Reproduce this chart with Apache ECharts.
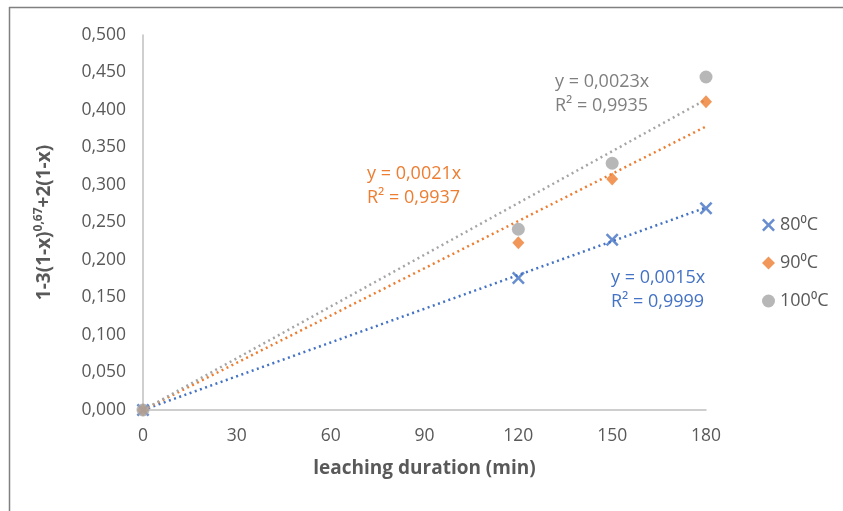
<!DOCTYPE html>
<html>
<head>
<meta charset="utf-8">
<script src="https://cdn.jsdelivr.net/npm/echarts@6/dist/echarts.min.js"></script>
<style>
  html, body { margin: 0; padding: 0; background: #fff; }
  #chart { width: 843px; height: 511px; }
</style>
</head>
<body>
<div id="chart"></div>
<script>
// measured points (leaching duration, min -> 1-3(1-x)^0,67+2(1-x))
const seriesNames = ["80⁰C", "90⁰C", "100⁰C"];
const durations = [0, 120, 150, 180];
const values80 = [0, 0.176, 0.227, 0.269];
const values90 = [0, 0.223, 0.308, 0.411];
const values100 = [0, 0.241, 0.329, 0.444];
// linear trendlines through origin, from the chart labels
const slopes = [0.0015, 0.0021, 0.0023];
const r2List = ["0,9999", "0,9937", "0,9935"];
const xTicks = [0, 30, 60, 90, 120, 150, 180];

const colors = ["#4472C4", "#ED7D31", "#A5A5A5"];
const crossPath = "path://M1.4,0 L5,3.6 L8.6,0 L10,1.4 L6.4,5 L10,8.6 L8.6,10 L5,6.4 L1.4,10 L0,8.6 L3.6,5 L0,1.4 Z";
const symbols = [crossPath, "diamond", "circle"];
const symbolSizes = [13, [12, 13], 13];
const font = "'Open Sans', sans-serif";

const allValues = [values80, values90, values100];
const xMax = xTicks[xTicks.length - 1];

const chart = echarts.init(document.getElementById("chart"));

const trendSeries = slopes.map((k, i) => ({
  name: "trend " + seriesNames[i],
  type: "line",
  data: [[0, 0], [xMax, k * xMax]],
  showSymbol: false,
  symbol: "none",
  silent: true,
  z: 1,
  lineStyle: { color: colors[i], width: 2.5, type: [2, 3.5] },
}));

const pointSeries = allValues.map((vals, i) => ({
  name: seriesNames[i],
  type: "scatter",
  data: durations.map((d, j) => [d, vals[j]]),
  symbol: symbols[i],
  symbolSize: symbolSizes[i],
  itemStyle: { color: colors[i] },
  z: 3,
}));

// trendline equation labels
const labelPos = [[611, 266], [367, 162], [555, 70]];
const labelColors = ["#4472C4", "#ED7D31", "#7F7F7F"];
const labels = slopes.map((k, i) => ({
  type: "text",
  left: labelPos[i][0],
  top: labelPos[i][1],
  style: {
    text: "y = " + k.toFixed(4).replace(".", ",") + "x\nR² = " + r2List[i],
    fill: labelColors[i],
    font: "18px " + font,
    lineHeight: 24,
  },
}));

chart.setOption({
  animation: false,
  textStyle: { fontFamily: font },
  grid: { left: 143, right: 137, top: 35, bottom: 101 },
  legend: {
    orient: "vertical",
    left: 757,
    top: 211,
    itemGap: 20,
    itemWidth: 13,
    itemHeight: 13,
    data: seriesNames.map((n, i) => ({ name: n, icon: symbols[i] })),
    textStyle: { color: "#595959", fontSize: 18, fontFamily: font },
  },
  xAxis: {
    type: "value",
    min: 0,
    max: xMax,
    interval: 30,
    name: "leaching duration (min)",
    nameLocation: "middle",
    nameGap: 49,
    nameTextStyle: { color: "#595959", fontSize: 19, fontWeight: "bold", fontFamily: font },
    axisLine: { lineStyle: { color: "#BFBFBF", width: 1.5 } },
    axisTick: { show: false },
    splitLine: { show: false },
    axisLabel: { color: "#595959", fontSize: 17.5, margin: 17, fontFamily: font },
  },
  yAxis: {
    type: "value",
    min: 0,
    max: 0.5,
    interval: 0.05,
    name: "1-3(1-x){sup|0,67}+2(1-x)",
    nameLocation: "middle",
    nameGap: 87,
    nameTextStyle: {
      color: "#595959",
      fontSize: 19,
      fontWeight: "bold",
      fontFamily: font,
      rich: {
        sup: { fontSize: 12, fontWeight: "bold", color: "#595959", fontFamily: font, verticalAlign: "bottom", padding: [0, 0, 11, 0] },
      },
    },
    axisLine: { show: true, lineStyle: { color: "#BFBFBF", width: 1.5 } },
    axisTick: { show: false },
    splitLine: { show: false },
    axisLabel: {
      color: "#595959",
      fontSize: 17.5,
      margin: 17,
      fontFamily: font,
      formatter: (v) => v.toFixed(3).replace(".", ","),
    },
  },
  graphic: [
    { type: "line", shape: { x1: 9, y1: 7.5, x2: 843, y2: 7.5 }, style: { stroke: "#808080", lineWidth: 1.5 } },
    { type: "line", shape: { x1: 9.5, y1: 7, x2: 9.5, y2: 511 }, style: { stroke: "#808080", lineWidth: 1.5 } },
    ...labels,
  ],
  series: [...trendSeries, ...pointSeries],
});
</script>
</body>
</html>
